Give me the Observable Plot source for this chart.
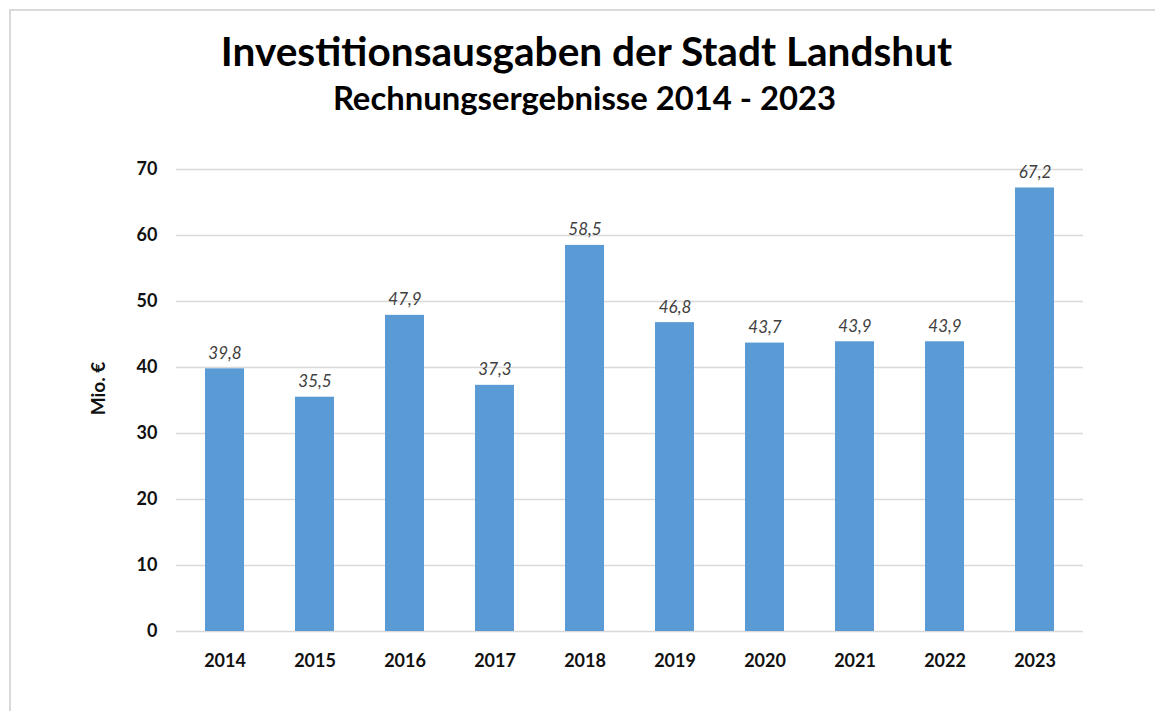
<!DOCTYPE html>
<html>
<head>
<meta charset="utf-8">
<script src="https://cdn.jsdelivr.net/npm/d3@7"></script>
<script src="https://cdn.jsdelivr.net/npm/@observablehq/plot@0.6"></script>
<style>
  html, body { margin: 0; padding: 0; background: #fff; overflow: hidden; }
  body { width: 1155px; height: 711px; position: relative; font-family: Lato, "Open Sans", sans-serif; }
  #frame { position: absolute; left: 9px; top: 9px; width: 1200px; height: 760px; border: 2px solid #d9d9d9; box-sizing: border-box; pointer-events: none; }
  #header { position: relative; height: 140px; }
  .t { position: absolute; left: 0; right: 0; text-align: center; font-weight: bold; color: #000; line-height: 1; white-space: nowrap; }
  #title { top: 31px; font-size: 40.6px; left: 18px; }
  #subtitle { top: 82px; font-size: 32.8px; left: 14px; }
  #chart svg { display: block; }
</style>
</head>
<body>
<div id="frame"></div>
<div id="header">
  <div class="t" id="title">Investitionsausgaben der Stadt Landshut</div>
  <div class="t" id="subtitle">Rechnungsergebnisse 2014 - 2023</div>
</div>
<div id="chart"></div>
<script>
const years = ["2014", "2015", "2016", "2017", "2018", "2019", "2020", "2021", "2022", "2023"];
const values = [39.8, 35.5, 47.9, 37.3, 58.5, 46.8, 43.7, 43.9, 43.9, 67.2];
const yTicks = [0, 10, 20, 30, 40, 50, 60, 70];
const yLabel = "Mio. €";

const data = years.map((y, i) => ({year: y, value: values[i]}));
const fmt = v => v.toFixed(1).replace(".", ",");

const chart = Plot.plot({
  width: 1155,
  height: 571,
  marginTop: 29,
  marginBottom: 80,
  marginLeft: 176,
  marginRight: 72,
  style: {fontFamily: "Lato, 'Open Sans', sans-serif", background: "#fff", overflow: "visible"},
  x: {type: "band", domain: years, paddingInner: 0.57, paddingOuter: 0.285, label: null},
  y: {domain: [0, 70], label: null},
  marks: [
    Plot.ruleY(yTicks, {stroke: "#d9d9d9", strokeWidth: 1.5}),
    Plot.barY(data, {x: "year", y: "value", fill: "#5b9bd5"}),
    Plot.text(data, {x: "year", y: "value", text: d => fmt(d.value), dy: -10, lineAnchor: "bottom",
      fontStyle: "italic", fontSize: 17, fill: "#404040"}),
    Plot.axisX({tickSize: 0, tickPadding: 23, fontSize: 18, fontWeight: "bold", fill: "#111", label: null}),
    Plot.axisY(yTicks, {tickSize: 0, tickPadding: 19, fontSize: 18, fontWeight: "bold", fill: "#111", label: null}),
    Plot.text([yLabel], {frameAnchor: "left", dx: -78, dy: -12, rotate: -90, text: d => d,
      textAnchor: "middle", fontSize: 19, fontWeight: "bold", fill: "#111", lineAnchor: "middle",
      style: {letterSpacing: "1.5px"}})
  ]
});
document.getElementById("chart").appendChild(chart);
</script>
</body>
</html>
